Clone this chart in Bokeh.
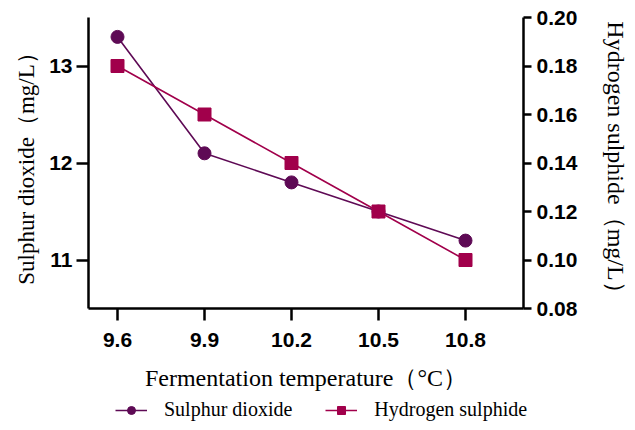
from bokeh.plotting import figure
from bokeh.models import (Range1d, LinearAxis, FixedTicker, Legend, LegendItem,
                          NumeralTickFormatter)
from bokeh.layouts import column
from bokeh.embed import file_html
from bokeh.resources import INLINE

temps = [9.6, 9.9, 10.2, 10.5, 10.8]
x_tick_labels = ["9.6", "9.9", "10.2", "10.5", "10.8"]
so2 = [13.3, 12.1, 11.8, 11.5, 11.2]
h2s = [0.18, 0.16, 0.14, 0.12, 0.10]
left_ticks = [11, 12, 13]
right_ticks = [0.08, 0.10, 0.12, 0.14, 0.16, 0.18, 0.20]
series_names = ["Sulphur dioxide", "Hydrogen sulphide"]

C_SO2 = "#5E0A55"
C_H2S = "#A1004B"
SERIF = "Liberation Serif"
SANS = "Liberation Sans"
W = 632

p = figure(width=W, height=398, output_backend="svg", toolbar_location=None,
           x_range=Range1d(9.5, 11.0), y_range=Range1d(10.5, 13.5),
           min_border_left=88, min_border_right=W - 525, min_border_top=17,
           min_border_bottom=90)
p.frame_align = False
p.outline_line_color = None
p.grid.visible = False
p.background_fill_color = "white"
p.border_fill_color = "white"

p.extra_y_ranges = {"h2s": Range1d(0.08, 0.20)}
raxis = LinearAxis(y_range_name="h2s")
p.add_layout(raxis, "right")

def style_axis(ax, tick_out, title_size):
    ax.axis_line_width = 2.5
    ax.axis_line_color = "black"
    ax.major_tick_line_width = 2.5
    ax.major_tick_line_color = "black"
    ax.major_tick_out = tick_out
    ax.major_tick_in = 0
    ax.minor_tick_line_color = None
    ax.major_label_text_font = SANS
    ax.major_label_text_font_style = "bold"
    ax.major_label_text_font_size = "21px"
    ax.major_label_text_color = "black"
    ax.axis_label_text_font = SERIF
    ax.axis_label_text_font_style = "normal"
    ax.axis_label_text_font_size = title_size
    ax.axis_label_text_color = "black"

xa = p.xaxis[0]
style_axis(xa, 12, "24px")
xa.ticker = FixedTicker(ticks=temps)
xa.major_label_overrides = {t: s for t, s in zip(temps, x_tick_labels)}
xa.axis_label = "Fermentation temperature（°C）"
xa.major_label_standoff = 12
xa.axis_label_standoff = 15

ya = p.yaxis[0]
style_axis(ya, 12, "23px")
ya.ticker = FixedTicker(ticks=left_ticks)
ya.axis_label = "Sulphur dioxide（mg/L）"
ya.major_label_standoff = 4
ya.axis_label_standoff = 7

style_axis(raxis, 8, "24px")
raxis.ticker = FixedTicker(ticks=right_ticks)
raxis.formatter = NumeralTickFormatter(format="0.00")
raxis.axis_label = "Hydrogen sulphide（mg/L）"
raxis.major_label_standoff = 5
raxis.axis_label_standoff = 23

p.line(temps, so2, line_color=C_SO2, line_width=1.6)
p.scatter(temps, so2, marker="circle", size=13, fill_color=C_SO2, line_color=C_SO2)
p.line(temps, h2s, line_color=C_H2S, line_width=1.6, y_range_name="h2s")
p.scatter(temps, h2s, marker="square", size=13, fill_color=C_H2S,
          line_color=C_H2S, y_range_name="h2s")

# legend strip below the chart (same series; their data lie outside its view)
lg = figure(width=W, height=30, output_backend="svg", toolbar_location=None,
            x_range=Range1d(0, 1), y_range=Range1d(0, 1),
            min_border_left=0, min_border_right=0, min_border_top=0,
            min_border_bottom=0)
lg.frame_align = False
lg.axis.visible = False
lg.grid.visible = False
lg.outline_line_color = None
lr1 = lg.line(temps, so2, line_color=C_SO2, line_width=1.6)
ls1 = lg.scatter(temps, so2, marker="circle", size=13, fill_color=C_SO2, line_color=C_SO2)
lr2 = lg.line(temps, h2s, line_color=C_H2S, line_width=1.6)
ls2 = lg.scatter(temps, h2s, marker="square", size=13, fill_color=C_H2S, line_color=C_H2S)

legend = Legend(items=[LegendItem(label=series_names[0], renderers=[lr1, ls1]),
                       LegendItem(label=series_names[1], renderers=[lr2, ls2])],
                orientation="horizontal", location=(115, 7))
legend.label_text_font = SERIF
legend.label_text_font_size = "20px"
legend.label_text_color = "black"
legend.glyph_width = 32
legend.glyph_height = 20
legend.label_standoff = 17
legend.spacing = 33
legend.padding = 0
legend.margin = 0
legend.border_line_color = None
legend.background_fill_alpha = 0
lg.add_layout(legend, "center")

layout = column(p, lg, spacing=0)
open("out.html", "w").write(file_html(layout, INLINE))
